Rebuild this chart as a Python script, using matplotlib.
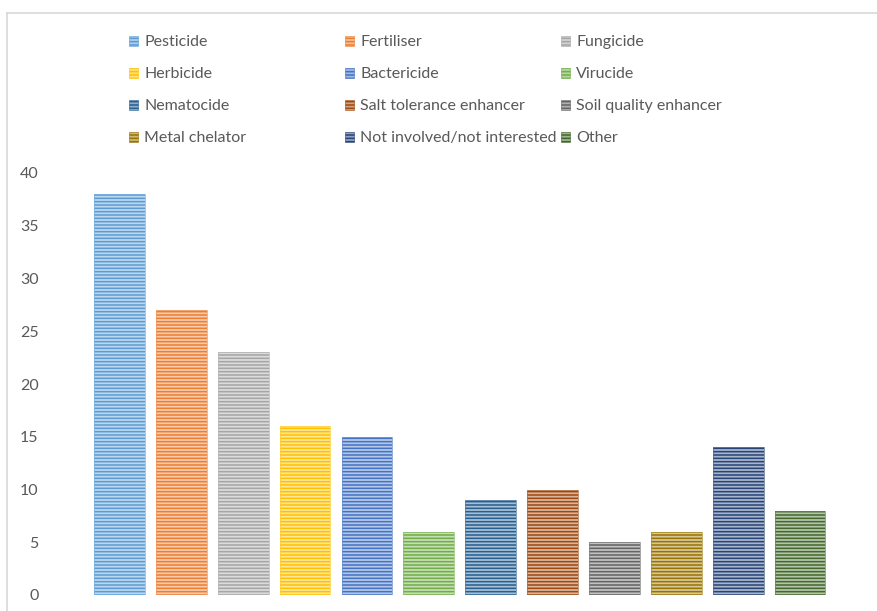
import numpy as np
import matplotlib.pyplot as plt
from matplotlib.patches import Rectangle
from matplotlib.lines import Line2D

plt.rcParams['font.family'] = ['Lato', 'DejaVu Sans']
plt.rcParams['hatch.linewidth'] = 1.1

# 各类别及其数量
categories = ['Pesticide', 'Fertiliser', 'Fungicide', 'Herbicide', 'Bactericide',
              'Virucide', 'Nematocide', 'Salt tolerance enhancer', 'Soil quality enhancer',
              'Metal chelator', 'Not involved/not interested', 'Other']
values = [38, 27, 23, 16, 15, 6, 9, 10, 5, 6, 14, 8]
colors = ['#5B9BD5', '#ED7D31', '#A5A5A5', '#FFC000', '#4472C4', '#70AD47',
          '#255E91', '#9E480E', '#636363', '#997300', '#264478', '#43682B']
y_ticks = [0, 5, 10, 15, 20, 25, 30, 35, 40]

W, H = 877, 611
fig = plt.figure(figsize=(W / 100, H / 100), dpi=100)


def lighten(c, f):
    rgb = np.array(plt.matplotlib.colors.to_rgb(c))
    return tuple(rgb + (1 - rgb) * f)


# 绘图区 (像素 -> 图坐标)
left_px, right_px, top_px, bottom_px = 88.5, 831, 173, 595
ax = fig.add_axes([left_px / W, 1 - bottom_px / H,
                   (right_px - left_px) / W, (bottom_px - top_px) / H])

x = np.arange(len(categories))
for xi, v, c in zip(x, values, colors):
    ax.bar(xi, v, width=0.82, color=lighten(c, 0.6), edgecolor=c,
           hatch='-----', linewidth=0)
    ax.bar(xi, v, width=0.82, color='none', edgecolor=lighten(c, 0.2), linewidth=0.5)

ax.set_xlim(-0.5, len(categories) - 0.5)
ax.set_ylim(0, 40)
ax.set_yticks(y_ticks)
ax.set_xticks([])
ax.tick_params(axis='y', length=0, pad=36, labelsize=11.5, labelcolor='#595959')
for s in ax.spines.values():
    s.set_visible(False)

# 图例 (3列, 按行排列)
col_x = [129, 345, 561]
row_y = [41, 73, 105, 137]
for i, (name, c) in enumerate(zip(categories, colors)):
    cx = col_x[i % 3]
    cy = row_y[i // 3]
    fig.patches.append(Rectangle((cx / W, 1 - (cy + 4.5) / H), 9 / W, 9 / H,
                                 transform=fig.transFigure, facecolor=lighten(c, 0.5),
                                 edgecolor=c, hatch='-----', linewidth=0.4))
    fig.text((cx + 15) / W, 1 - (cy + 1) / H, name, fontsize=11.5, color='#595959',
             ha='left', va='center')

# 图表外框
fig.add_artist(Line2D([6.5 / W, 1], [1 - 12.5 / H, 1 - 12.5 / H],
                      transform=fig.transFigure, color='#D9D9D9', linewidth=1.2))
fig.add_artist(Line2D([6.5 / W, 6.5 / W], [0, 1 - 12.5 / H],
                      transform=fig.transFigure, color='#D9D9D9', linewidth=1.2))

fig.savefig('out.png', dpi=100)
